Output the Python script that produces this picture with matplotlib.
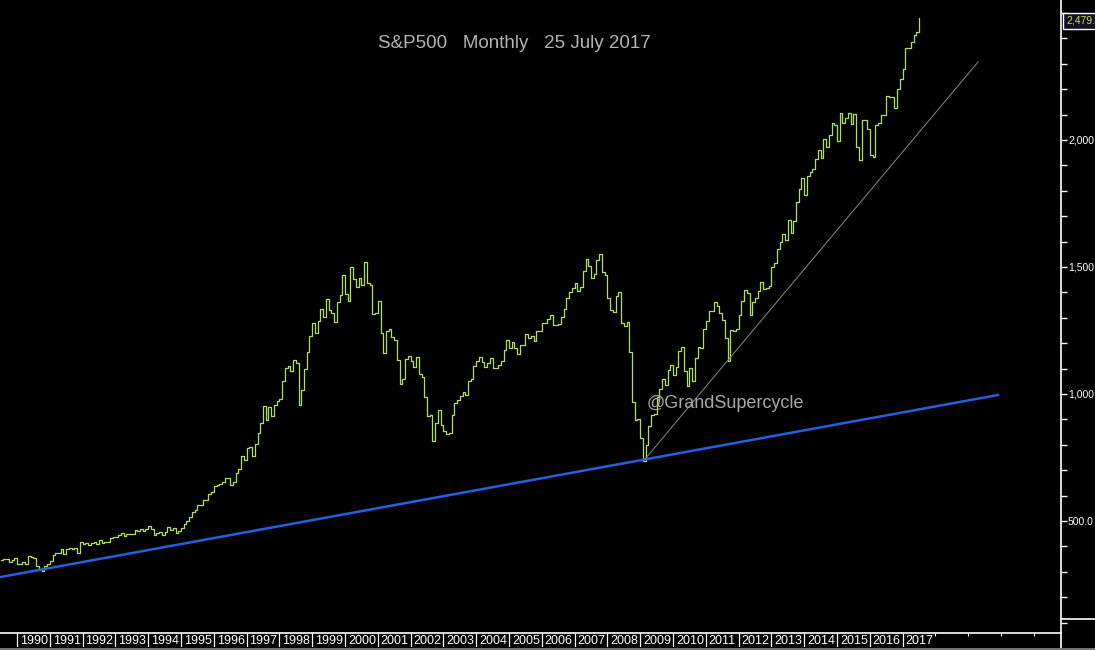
import matplotlib
matplotlib.use('Agg')
import matplotlib.pyplot as plt
import matplotlib.transforms as mtransforms
import numpy as np

# S&P 500 clôtures mensuelles (juil. 1989 -> juil. 2017)
start_year = 1989
start_month = 7
closes = [
    346.1, 351.5, 349.2, 340.4, 346.0, 353.4,
    329.1, 331.9, 339.9, 330.8, 361.2, 358.0, 356.2, 322.6, 306.1, 304.0, 322.2, 330.2,
    343.9, 367.1, 375.2, 375.3, 389.8, 371.2, 387.8, 395.4, 387.9, 392.5, 375.2, 417.1,
    408.8, 412.7, 403.7, 414.9, 415.4, 408.1, 424.2, 414.0, 417.8, 418.7, 431.4, 435.7,
    438.8, 443.4, 451.7, 440.2, 450.2, 450.5, 448.1, 463.6, 458.9, 467.8, 461.8, 466.5,
    481.6, 467.1, 445.8, 450.9, 456.5, 444.3, 458.3, 475.5, 462.7, 472.4, 453.7, 459.3,
    470.4, 487.4, 500.7, 514.7, 533.4, 544.8, 562.1, 561.9, 584.4, 581.5, 605.4, 615.9,
    636.0, 640.4, 645.5, 654.2, 669.1, 670.6, 639.9, 652.0, 687.3, 705.3, 757.0, 740.7,
    786.2, 790.8, 757.1, 801.3, 848.3, 885.1, 954.3, 899.5, 947.3, 914.6, 955.4, 970.4,
    980.3, 1049.3, 1101.8, 1111.8, 1090.8, 1133.8, 1120.7, 957.3, 1017.0, 1098.7, 1163.6, 1229.2,
    1279.6, 1238.3, 1286.4, 1335.2, 1301.8, 1372.7, 1328.7, 1320.4, 1282.7, 1362.9, 1388.9, 1469.3,
    1394.5, 1366.4, 1498.6, 1452.4, 1420.6, 1454.6, 1430.8, 1517.7, 1436.5, 1429.4, 1315.2, 1320.3,
    1366.0, 1239.9, 1160.3, 1249.5, 1255.8, 1224.4, 1211.2, 1133.6, 1040.9, 1059.8, 1139.5, 1148.1,
    1130.2, 1106.7, 1147.4, 1076.9, 1067.1, 989.8, 911.6, 916.1, 815.3, 885.8, 936.3, 879.8,
    855.7, 841.2, 848.2, 916.9, 963.6, 974.5, 990.3, 1008.0, 996.0, 1050.7, 1058.2, 1111.9,
    1131.1, 1144.9, 1126.2, 1107.3, 1120.7, 1140.8, 1101.7, 1104.2, 1114.6, 1130.2, 1173.8, 1211.9,
    1181.3, 1203.6, 1180.6, 1156.9, 1191.5, 1191.3, 1234.2, 1220.3, 1228.8, 1207.0, 1249.5, 1248.3,
    1280.1, 1280.7, 1294.9, 1310.6, 1270.1, 1270.2, 1276.7, 1303.8, 1335.9, 1377.9, 1400.6, 1418.3,
    1438.2, 1406.8, 1420.9, 1482.4, 1530.6, 1503.4, 1455.3, 1474.0, 1526.8, 1549.4, 1481.1, 1468.4,
    1378.6, 1330.6, 1322.7, 1385.6, 1400.4, 1280.0, 1267.4, 1282.8, 1166.4, 968.8, 896.2, 903.3,
    825.9, 735.1, 797.9, 872.8, 919.1, 919.3, 987.5, 1020.6, 1057.1, 1036.2, 1095.6, 1115.1,
    1073.9, 1104.5, 1169.4, 1186.7, 1089.4, 1030.7, 1101.6, 1049.3, 1141.2, 1183.3, 1180.6, 1257.6,
    1286.1, 1327.2, 1325.8, 1363.6, 1345.2, 1320.6, 1292.3, 1218.9, 1131.4, 1253.3, 1247.0, 1257.6,
    1312.4, 1365.7, 1408.5, 1397.9, 1310.3, 1362.2, 1379.3, 1406.6, 1440.7, 1412.2, 1416.2, 1426.2,
    1498.1, 1514.7, 1569.2, 1597.6, 1630.7, 1606.3, 1685.7, 1633.0, 1681.6, 1756.5, 1805.8, 1848.4,
    1782.6, 1859.5, 1872.3, 1884.0, 1923.6, 1960.2, 1930.7, 2003.4, 1972.3, 2018.1, 2067.6, 2058.9,
    1995.0, 2104.5, 2067.9, 2085.5, 2107.4, 2063.1, 2103.8, 1972.2, 1920.0, 2079.4, 2080.4, 2043.9,
    1940.2, 1932.2, 2059.7, 2065.3, 2097.0, 2098.9, 2173.6, 2171.0, 2168.3, 2126.2, 2198.8, 2238.8,
    2278.9, 2363.6, 2362.7, 2384.2, 2411.8, 2423.4, 2479.0,
]
last_value = 2479.0
last_label = '2,479.'

# Lignes de tendance (extrémités)
blue_x = [1989.48, 2019.91]
blue_y = [279.0, 996.0]
grey_x = [2009.15, 2019.30]
grey_y = [744.0, 2307.0]

years = list(range(1990, 2018))
future_years = list(range(2018, 2022))
y_ticks = [500, 1000, 1500, 2000]
y_ticklabels = ['500.0', '1,000', '1,500', '2,000']

x_lim = (1989.482, 2021.83)
y_lim = (59.0, 2551.0)

dates = start_year + (start_month - 1 + np.arange(len(closes))) / 12.0

W, H = 1095, 650
fig = plt.figure(figsize=(W / 100, H / 100), dpi=100, facecolor='black')
plt.rcParams['font.family'] = ['Liberation Sans', 'DejaVu Sans']

ax_right = 1061 / W
ax = fig.add_axes([0, 17 / H, ax_right, 633 / H])
ax.set_facecolor('black')
ax.plot(dates, closes, drawstyle='steps-post', color='#b4e058', linewidth=0.9)
ax.plot(blue_x, blue_y, color='#2262e0', linewidth=1.8)
ax.plot(grey_x, grey_y, color='#8a8a8a', linewidth=0.7)
ax.set_xlim(*x_lim)
ax.set_ylim(*y_lim)

for s in ['left', 'top', 'bottom']:
    ax.spines[s].set_visible(False)
ax.spines['right'].set_color('white')
ax.spines['right'].set_linewidth(1.2)
ax.set_xticks([])
ax.yaxis.tick_right()
ax.set_yticks(y_ticks)
ax.set_yticklabels(y_ticklabels)
ax.set_yticks(np.arange(100, 2600, 100), minor=True)
ax.tick_params(axis='y', which='major', colors='white', length=4, width=1,
               labelsize=7.5, pad=1)
ax.tick_params(axis='y', which='minor', colors='white', length=4, width=1)

ax.text(0.485, 1 - 44 / 633, 'S&P500   Monthly   25 July 2017', transform=ax.transAxes,
        ha='center', va='center', color='#b4b4b4', fontsize=13.5)
ax.text(647 / 1061, 1 - 404 / 633, '@GrandSupercycle', transform=ax.transAxes,
        ha='left', va='center', color='#a8a8a8', fontsize=13)

trans = mtransforms.blended_transform_factory(ax.transAxes, ax.transData)
ax.text(1.005, last_value - 10, last_label, transform=trans, ha='left', va='center',
        color='#c8e060', fontsize=7.5, clip_on=False,
        bbox=dict(boxstyle='square,pad=0.3', facecolor='#141028', edgecolor='white',
                  linewidth=1))

# Barre des années
bar = fig.add_axes([0, 3 / H, ax_right, 14 / H])
bar.set_facecolor('black')
bar.set_xlim(*x_lim)
bar.set_ylim(0, 1)
for s in bar.spines.values():
    s.set_visible(False)
bar.spines['top'].set_visible(True)
bar.spines['top'].set_color('white')
bar.spines['top'].set_linewidth(1.2)
bar.set_yticks([])
bar.set_xticks(future_years)
bar.set_xticklabels([])
bar.tick_params(axis='x', direction='in', top=True, bottom=False, length=2,
                colors='white')
bar.vlines(years, 0, 1, color='white', linewidth=0.9)
for yr in years:
    bar.text(yr + 0.09, 0.45, str(yr), ha='left', va='center', color='white',
             fontsize=9)

# Séparateurs du cadre
fig.add_artist(plt.Line2D([ax_right, ax_right], [0, 17 / H], color='white',
                          linewidth=1.2, transform=fig.transFigure))
fig.add_artist(plt.Line2D([ax_right, 1], [31 / H, 31 / H], color='white',
                          linewidth=1.2, transform=fig.transFigure))
fig.add_artist(plt.Line2D([0, 1], [1.5 / H, 1.5 / H], color='#7a7a7a',
                          linewidth=2, transform=fig.transFigure))

fig.savefig('out.png', dpi=100, facecolor='black')
